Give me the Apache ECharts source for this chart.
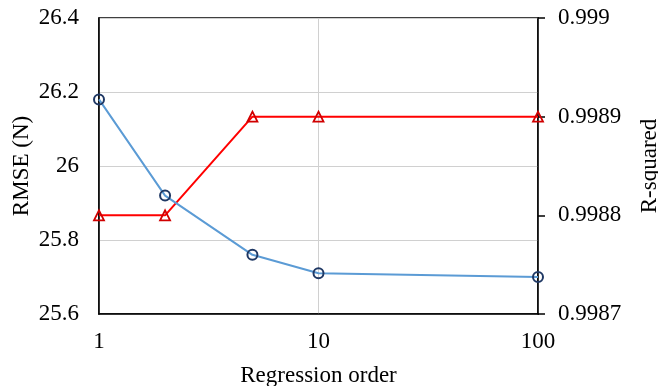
<!DOCTYPE html>
<html><head><meta charset="utf-8">
<script src="https://cdn.jsdelivr.net/npm/echarts@6/dist/echarts.min.js"></script>
<style>html,body{margin:0;padding:0;background:#fff}#c{width:658px;height:386px}</style>
</head><body><div id="c"></div>
<script>
const orders = [1, 2, 5, 10, 100];
const rmse = [26.18, 25.92, 25.76, 25.71, 25.70];
const rsq = [0.9988, 0.9988, 0.9989, 0.9989, 0.9989];
const leftTicks = [25.6, 26.4, 0.2];
const rightTicks = [0.9987, 0.999, 0.0001];

const FONT = 'Liberation Serif';
const chart = echarts.init(document.getElementById('c'), null, {renderer: 'canvas'});
const txt = {color: '#000', fontFamily: FONT, fontSize: 23};
chart.setOption({
  animation: false,
  grid: {left: 99, right: 120, top: 18, bottom: 72, containLabel: false, outerBoundsMode: 'none',
    show: true, borderColor: '#000', borderWidth: 1.5, backgroundColor: 'transparent'},
  xAxis: {
    type: 'log', logBase: 10, min: 1, max: 100,
    name: 'Regression order', nameLocation: 'middle', nameGap: 50, nameMoveOverlap: false,
    nameTextStyle: txt,
    axisLine: {show: true, lineStyle: {color: '#000', width: 1.5}},
    axisTick: {show: false},
    minorTick: {show: false},
    axisLabel: Object.assign({margin: 16}, txt),
    splitLine: {show: true, lineStyle: {color: '#d0d0d0', width: 1}}
  },
  yAxis: [{
    type: 'value', min: leftTicks[0], max: leftTicks[1], interval: leftTicks[2],
    name: 'RMSE (N)', nameLocation: 'middle', nameGap: 66, nameRotate: 90, nameMoveOverlap: false,
    nameTextStyle: txt,
    axisLine: {show: true, lineStyle: {color: '#000', width: 1.5}},
    axisTick: {show: false},
    axisLabel: Object.assign({margin: 20, formatter: v => String(+v.toFixed(1))}, txt),
    splitLine: {show: true, lineStyle: {color: '#d0d0d0', width: 1}}
  }, {
    type: 'value', position: 'right', min: rightTicks[0], max: rightTicks[1], interval: rightTicks[2],
    name: 'R-squared', nameLocation: 'middle', nameGap: 100, nameRotate: 90, nameMoveOverlap: false,
    nameTextStyle: txt,
    axisLine: {show: true, lineStyle: {color: '#000', width: 1.5}},
    axisTick: {show: true, length: 7, lineStyle: {color: '#000', width: 1.5}},
    axisLabel: Object.assign({margin: 20, formatter: v => String(+v.toFixed(4))}, txt),
    splitLine: {show: false}
  }],
  series: [{
    type: 'line', yAxisIndex: 0,
    data: orders.map((o, i) => [o, rmse[i]]),
    lineStyle: {color: '#5B9BD5', width: 2},
    symbol: 'circle', symbolSize: 10,
    itemStyle: {color: 'rgba(255,255,255,0)', borderColor: '#1F3864', borderWidth: 2},
    z: 3
  }, {
    type: 'line', yAxisIndex: 1,
    data: orders.map((o, i) => [o, rsq[i]]),
    lineStyle: {color: '#FF0000', width: 2},
    symbol: 'triangle', symbolSize: 10,
    itemStyle: {color: 'rgba(255,255,255,0)', borderColor: '#D00000', borderWidth: 1.8},
    z: 2
  }]
});
</script></body></html>
